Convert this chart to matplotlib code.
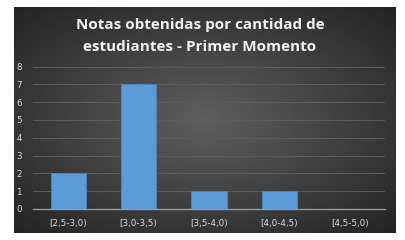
import matplotlib.pyplot as plt
import numpy as np

categorias = ["[2,5-3,0)", "[3,0-3,5)", "[3,5-4,0)", "[4,0-4,5)", "[4,5-5,0)"]
estudiantes = [2, 7, 1, 1, 0]
titulo = "Notas obtenidas por cantidad de\nestudiantes - Primer Momento"

W, H = 406, 240
fig = plt.figure(figsize=(W / 100, H / 100), dpi=100, facecolor="white")

# fondo oscuro con degradado radial
bg = fig.add_axes([14 / W, 7 / H, 382 / W, 226 / H])
yy, xx = np.mgrid[-1:1:200j, -1:1:300j]
r = np.sqrt(xx ** 2 + yy ** 2) / np.sqrt(2)
bg.imshow(0.37 - 0.23 * r, cmap="gray", vmin=0, vmax=1, aspect="auto",
          extent=[0, 1, 0, 1])
bg.set_axis_off()

ax = fig.add_axes([33 / W, 31 / H, 352 / W, 142.5 / H])
ax.patch.set_alpha(0)
x = np.arange(len(categorias))
ax.bar(x, estudiantes, width=0.5, color="#5a9bd8", edgecolor="#4a86c0",
       linewidth=0.6, zorder=3)
ax.set_xlim(-0.5, len(categorias) - 0.5)
ax.set_ylim(0, 8)
ax.set_yticks(range(0, 9))
ax.set_xticks(x)
ax.set_xticklabels(categorias)
ax.grid(axis="y", color="#5e5e5e", linewidth=0.7, zorder=0)
for s in ["top", "right", "left"]:
    ax.spines[s].set_visible(False)
ax.spines["bottom"].set_color("#9a9a9a")
ax.spines["bottom"].set_linewidth(1.0)
ax.tick_params(length=0, colors="#d9d9d9", labelsize=6.3)
ax.tick_params(axis="x", pad=7)
ax.tick_params(axis="y", pad=8)

# el título original tiene algo de espaciado entre letras
for i, linea in enumerate(titulo.split("\n")):
    fig.text(200 / W, 1 - (25 + 22 * i) / H, linea, ha="center", va="center",
             color="#f2f2f2", fontsize=11, fontweight="bold",
             family="Open Sans")

fig.savefig("out.png", dpi=100)
